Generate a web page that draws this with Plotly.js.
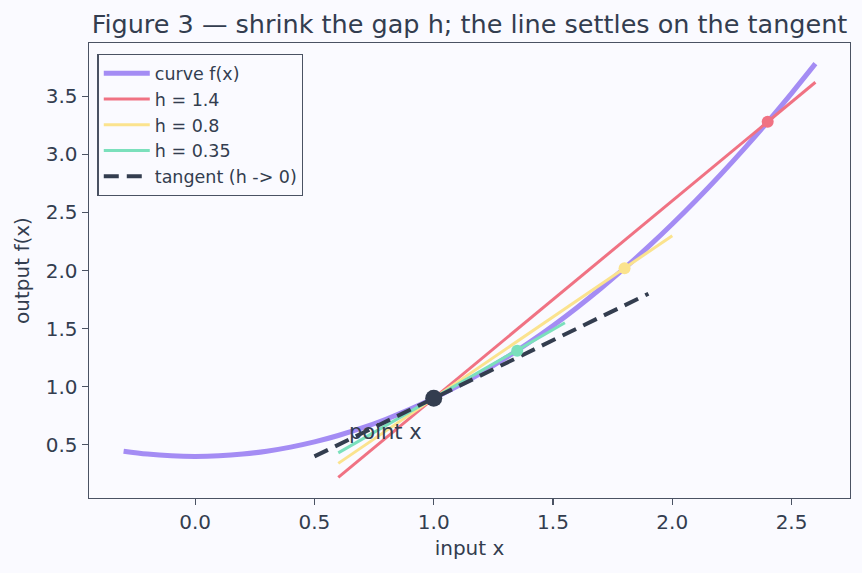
<!DOCTYPE html>
<html>
<head>
<meta charset="utf-8">
<script src="https://cdn.plot.ly/plotly-3.0.1.min.js"></script>
<style>
  html, body { margin: 0; padding: 0; background: #fafaff; }
  #chart { width: 862px; height: 573px; }
</style>
</head>
<body>
<div id="chart"></div>
<script>
// Curve f(x) sampled on a 0.1 grid
const curveX = [-0.3, -0.2, -0.1, 0.0, 0.1, 0.2, 0.3, 0.4, 0.5, 0.6, 0.7, 0.8, 0.9, 1.0,
                1.1, 1.2, 1.3, 1.4, 1.5, 1.6, 1.7, 1.8, 1.9, 2.0, 2.1, 2.2, 2.3, 2.4, 2.5, 2.6];
const curveY = [0.445, 0.42, 0.405, 0.4, 0.405, 0.42, 0.445, 0.48, 0.525, 0.58, 0.645, 0.72, 0.805, 0.9,
                1.005, 1.12, 1.245, 1.38, 1.525, 1.68, 1.845, 2.02, 2.205, 2.4, 2.605, 2.82, 3.045, 3.28, 3.525, 3.78];

// The fixed point x and its value
const pointX = 1.0;
const pointY = 0.9;

// Secant lines: gap h, second point on the curve, and drawn segment ends
const gapLabels = ["h = 1.4", "h = 0.8", "h = 0.35"];
const secondX = [2.4, 1.8, 1.35];
const secondY = [3.28, 2.02, 1.31];
const segStartX = [0.6, 0.6, 0.6];
const segEndX = [2.6, 2.0, 1.55];
const segStartY = [0.22, 0.34, 0.43];
const segEndY = [3.62, 2.3, 1.55];

// Tangent line segment (h -> 0)
const tangentX = [0.5, 1.9];
const tangentY = [0.4, 1.8];

const ink = "#333d4f";
const secantColors = ["#f07283", "#fbe38e", "#7be0bc"];

const traces = [];
traces.push({
  x: curveX, y: curveY, mode: "lines", name: "curve f(x)",
  line: { color: "#a48cf4", width: 5, shape: "spline", smoothing: 1 }
});
for (let i = 0; i < gapLabels.length; i++) {
  traces.push({
    x: [segStartX[i], segEndX[i]], y: [segStartY[i], segEndY[i]],
    mode: "lines", name: gapLabels[i],
    line: { color: secantColors[i], width: 3 }
  });
}
traces.push({
  x: tangentX, y: tangentY, mode: "lines", name: "tangent (h -> 0)",
  line: { color: ink, width: 4, dash: "15px,8px" }
});
for (let i = 0; i < gapLabels.length; i++) {
  traces.push({
    x: [secondX[i]], y: [secondY[i]], mode: "markers", showlegend: false,
    marker: { color: secantColors[i], size: 12 }
  });
}
traces.push({
  x: [pointX], y: [pointY], mode: "markers", showlegend: false,
  marker: { color: ink, size: 17 }
});

const axisCommon = {
  showgrid: false, zeroline: false,
  showline: true, mirror: true, linecolor: "#4a5263", linewidth: 1.4,
  ticks: "outside", ticklen: 6, tickwidth: 1.3, tickcolor: "#4a5263",
  tickfont: { size: 20, color: ink },
  tickformat: ".1f"
};

const layout = {
  width: 862, height: 573,
  paper_bgcolor: "#fafaff", plot_bgcolor: "#fafaff",
  font: { family: "DejaVu Sans, sans-serif", color: ink },
  margin: { l: 89, r: 12, t: 43, b: 75 },
  title: {
    text: "Figure 3 — shrink the gap h; the line settles on the tangent",
    font: { size: 25.5, color: ink },
    xref: "paper", x: 0.5, xanchor: "center",
    yref: "container", y: 1 - 24 / 573, yanchor: "middle"
  },
  xaxis: Object.assign({}, axisCommon, {
    range: [-0.445, 2.745],
    tickvals: [0, 0.5, 1.0, 1.5, 2.0, 2.5],
    title: { text: "input x", font: { size: 20, color: ink }, standoff: 7 }
  }),
  yaxis: Object.assign({}, axisCommon, {
    range: [0.042, 3.958],
    tickvals: [0.5, 1.0, 1.5, 2.0, 2.5, 3.0, 3.5],
    title: { text: "output f(x)", font: { size: 20, color: ink }, standoff: 10 }
  }),
  legend: {
    x: 0.011, y: 0.976, xanchor: "left", yanchor: "top",
    bgcolor: "rgba(250,250,255,0.9)", bordercolor: "#4a5263", borderwidth: 1.4,
    font: { size: 17.5, color: ink },
    itemwidth: 46, tracegroupgap: 0
  },
  annotations: [{
    x: 0.635, y: 0.61, xref: "x", yref: "y", text: "point x",
    showarrow: false, xanchor: "left", yanchor: "middle",
    font: { size: 21, color: ink }
  }],
  showlegend: true
};

Plotly.newPlot("chart", traces, layout, { displayModeBar: false, staticPlot: true });
</script>
</body>
</html>
